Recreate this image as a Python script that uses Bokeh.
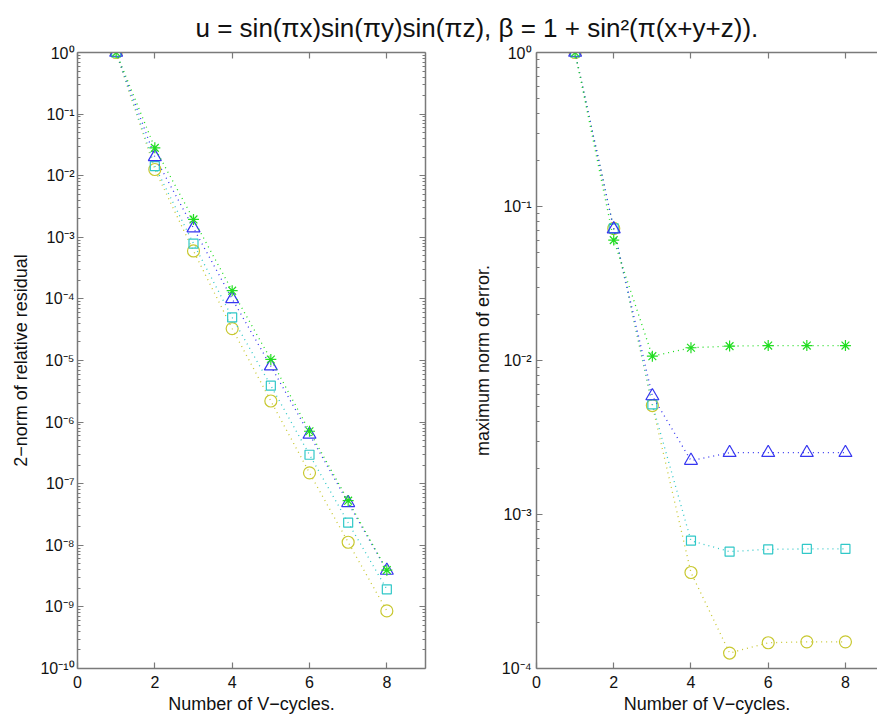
from bokeh.plotting import figure
from bokeh.models import (FixedTicker, LinearAxis, LogAxis, Range1d, Label,
                          CustomJSTickFormatter)
from bokeh.layouts import column, row
from bokeh.embed import file_html
from bokeh.resources import INLINE

# ---------------- data ----------------
cycles = [1, 2, 3, 4, 5, 6, 7, 8]

# left panel: 2-norm of relative residual
res_green = [1.0, 2.83e-2, 1.95e-3, 1.36e-4, 1.04e-5, 7.1e-7, 5.3e-8, 3.95e-9]
res_blue = [1.0, 2.02e-2, 1.41e-3, 1.0e-4, 8.1e-6, 6.3e-7, 4.9e-8, 3.9e-9]
res_cyan = [1.0, 1.43e-2, 7.9e-4, 5.0e-5, 3.9e-6, 2.95e-7, 2.33e-8, 1.93e-9]
res_yellow = [1.0, 1.26e-2, 6.0e-4, 3.3e-5, 2.2e-6, 1.5e-7, 1.12e-8, 8.6e-10]

# right panel: maximum norm of error
err_green = [1.0, 6.05e-2, 1.067e-2, 1.21e-2, 1.24e-2, 1.25e-2, 1.25e-2, 1.25e-2]
err_blue = [1.0, 7.13e-2, 5.88e-3, 2.24e-3, 2.52e-3, 2.52e-3, 2.52e-3, 2.52e-3]
err_cyan = [1.0, 7.2e-2, 5.19e-3, 6.76e-4, 5.74e-4, 5.94e-4, 5.98e-4, 5.98e-4]
err_yellow = [1.0, 7.2e-2, 5.1e-3, 4.2e-4, 1.26e-4, 1.47e-4, 1.49e-4, 1.49e-4]

x_ticks = [0, 2, 4, 6, 8]
sup = str.maketrans("-0123456789", "⁻⁰¹²³⁴⁵⁶⁷⁸⁹")
left_exps = list(range(-10, 1))
right_exps = list(range(-4, 1))

title_text = "u = sin(πx)sin(πy)sin(πz),  β = 1 + sin²(π(x+y+z))."
left_ylabel = "2−norm of relative residual"
right_ylabel = "maximum norm of error."
xlabel = "Number of V−cycles."

GREEN = "#22dd22"
BLUE = "#3535f0"
CYAN = "#30c8c8"
YELLOW = "#c8c830"
AXC = "#7a7a7a"
FONT = "Liberation Sans"


def log_ticks(exps):
    major = [10.0 ** e for e in exps]
    minor = []
    for e in exps[:-1]:
        for m in range(2, 10):
            minor.append(m * 10.0 ** e)
    return major, minor


def style_axis(ax, labels=True, minor=False):
    ax.axis_line_color = AXC
    ax.axis_line_width = 1.5
    ax.major_tick_line_color = AXC
    ax.major_tick_line_width = 1.2
    ax.major_tick_in = 6
    ax.major_tick_out = 0
    ax.minor_tick_line_color = AXC if minor else None
    ax.minor_tick_in = 3
    ax.minor_tick_out = 0
    ax.major_label_text_font = FONT
    ax.major_label_text_font_size = "16px"
    ax.major_label_text_color = "#111111"
    ax.axis_label_text_font = FONT
    ax.axis_label_text_font_size = "18px"
    ax.axis_label_text_font_style = "normal"
    ax.axis_label_text_color = "#111111"
    if not labels:
        ax.formatter = CustomJSTickFormatter(code="return ''")
        ax.major_label_standoff = 0


def make_panel(width, xend, exps, series, ylabel, mb_left, mb_right, right_axis,
               label_standoff, ylabel_standoff):
    ymin, ymax = 10.0 ** exps[0], 10.0 ** exps[-1]
    p = figure(width=width, height=672, x_range=Range1d(0, xend),
               y_range=Range1d(ymin, ymax), y_axis_type="log",
               output_backend="svg", toolbar_location=None,
               min_border_left=mb_left, min_border_right=mb_right,
               min_border_top=8, min_border_bottom=46)
    p.outline_line_color = None
    p.xgrid.visible = False
    p.ygrid.visible = False
    p.background_fill_color = "white"
    p.border_fill_color = "white"

    major, minor = log_ticks(exps)
    yt = FixedTicker(ticks=major, minor_ticks=minor)
    xt = FixedTicker(ticks=x_ticks, minor_ticks=[])

    xa = p.xaxis[0]
    xa.ticker = xt
    xa.axis_label = xlabel
    style_axis(xa)
    xa.major_label_standoff = 7
    xa.axis_label_standoff = 3

    ya = p.yaxis[0]
    ya.ticker = yt
    ya.axis_label = ylabel
    style_axis(ya, minor=True)
    ya.major_label_overrides = {10.0 ** e: "10" + str(e).translate(sup) for e in exps}
    ya.major_label_standoff = label_standoff
    ya.axis_label_standoff = ylabel_standoff

    top = LinearAxis(ticker=FixedTicker(ticks=x_ticks, minor_ticks=[]))
    style_axis(top, labels=False)
    p.add_layout(top, "above")

    if right_axis:
        ra = LogAxis(ticker=FixedTicker(ticks=major, minor_ticks=minor))
        style_axis(ra, labels=False, minor=True)
        p.add_layout(ra, "right")

    for ys, color, marker, size in series:
        p.line(cycles, ys, line_color=color, line_dash="1 4", line_width=1.3)
        p.scatter(cycles, ys, marker=marker, size=size, line_color=color,
                  fill_color=None, line_width=1.2)
    return p


left_series = [
    (res_yellow, YELLOW, "circle", 12),
    (res_cyan, CYAN, "square", 9),
    (res_blue, BLUE, "triangle", 13),
    (res_green, GREEN, "asterisk", 11),
]
right_series = [
    (err_yellow, YELLOW, "circle", 12),
    (err_cyan, CYAN, "square", 9),
    (err_blue, BLUE, "triangle", 13),
    (err_green, GREEN, "asterisk", 11),
]

left = make_panel(468, 9, left_exps, left_series, left_ylabel, 77, 43, True, 3, 6)
right = make_panel(409, 8.83, right_exps, right_series, right_ylabel, 68, 0, False, 5, 6)

# title strip
tp = figure(width=877, height=44, x_range=Range1d(0, 877), y_range=Range1d(0, 44),
            output_backend="svg", toolbar_location=None, min_border=0)
tp.outline_line_color = None
tp.xaxis.visible = False
tp.yaxis.visible = False
tp.xgrid.visible = False
tp.ygrid.visible = False
tp.add_layout(Label(x=480, y=17, text=title_text, text_align="center",
                    text_baseline="alphabetic", text_font=FONT,
                    text_font_size="26px", text_color="#111111"))

layout = column(tp, row(left, right), spacing=0)

with open("out.html", "w") as f:
    f.write(file_html(layout, INLINE))
